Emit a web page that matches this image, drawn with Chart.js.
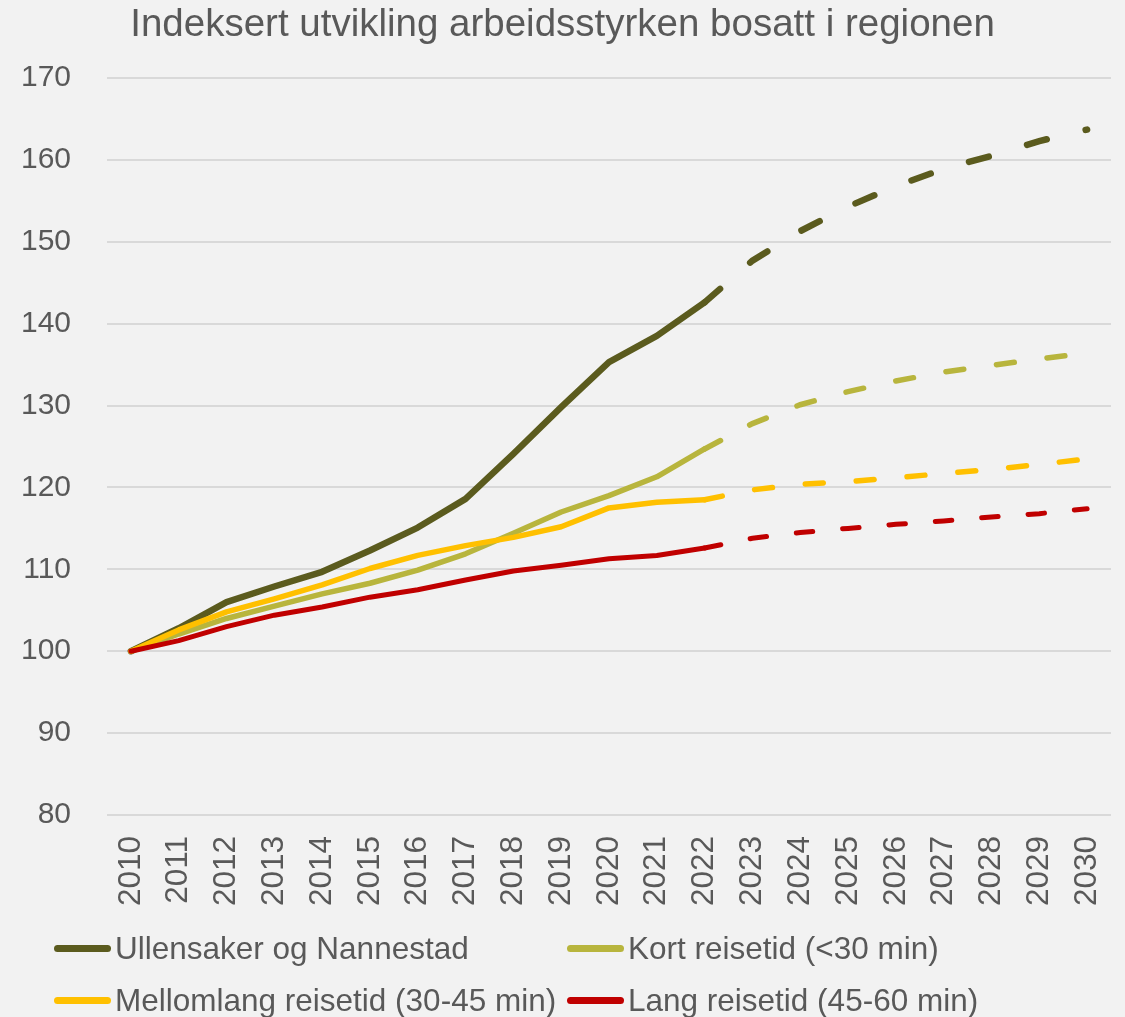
<!DOCTYPE html>
<html>
<head>
<meta charset="utf-8">
<script src="https://cdn.jsdelivr.net/npm/chart.js@4.4.1/dist/chart.umd.min.js"></script>
<style>
  html, body { margin: 0; padding: 0; background: #f2f2f2; }
  #wrap { position: relative; width: 1125px; height: 1017px; }
  .leg-item { position: absolute; display: flex; align-items: center; height: 40px;
    font-family: 'Liberation Sans', Arial, sans-serif; font-size: 31.5px; color: #595959; white-space: nowrap; }
  .leg-line { width: 57px; height: 7px; border-radius: 4px; margin-right: 4px; }
</style>
</head>
<body>
<div id="wrap">
  <canvas id="chart"></canvas>
  <div id="legend"></div>
</div>
<script>
const years = ['2010','2011','2012','2013','2014','2015','2016','2017','2018','2019','2020',
  '2021','2022','2023','2024','2025','2026','2027','2028','2029','2030'];

const seriesNames = [
  'Ullensaker og Nannestad',
  'Kort reisetid (<30 min)',
  'Mellomlang reisetid (30-45 min)',
  'Lang reisetid (45-60 min)'
];
const seriesColors = ['#5b5b1e', '#b8b53d', '#ffc000', '#c00000'];

// Historical 2010-2022
const ullensaker = [100, 102.8, 106.0, 107.9, 109.7, 112.3, 115.1, 118.6, 124.1, 129.8, 135.3, 138.5, 142.6];
const kort       = [100, 102.1, 104.0, 105.5, 107.0, 108.3, 109.9, 111.9, 114.4, 117.0, 119.0, 121.3, 124.7];
const mellom     = [100, 102.6, 104.8, 106.4, 108.1, 110.1, 111.7, 112.9, 113.9, 115.2, 117.5, 118.2, 118.5];
const lang       = [100, 101.3, 103.0, 104.4, 105.4, 106.6, 107.5, 108.7, 109.8, 110.5, 111.3, 111.7, 112.6];

// Projection 2022-2030
const ullensakerProg = [142.6, 147.7, 151.3, 154.3, 156.8, 158.9, 160.5, 162.3, 163.7];
const kortProg       = [124.7, 127.8, 130.1, 131.7, 133.0, 134.1, 134.9, 135.7, 136.4];
const mellomProg     = [118.5, 119.7, 120.4, 120.7, 121.2, 121.7, 122.2, 122.8, 123.5];
const langProg       = [112.6, 113.8, 114.5, 115.0, 115.5, 115.9, 116.4, 116.8, 117.4];

const yTicks = [80, 90, 100, 110, 120, 130, 140, 150, 160, 170];

const history = [ullensaker, kort, mellom, lang];
const projections = [ullensakerProg, kortProg, mellomProg, langProg];
const widths = [6.5, 5.5, 5.5, 5];
const dashes = [[20.5, 40], [18, 33], [18, 33], [16.5, 30]];

const font = "'Liberation Sans', Arial, sans-serif";
const textColor = '#595959';

const datasets = [];
history.forEach((vals, i) => {
  datasets.push({
    label: seriesNames[i],
    data: vals,
    borderColor: seriesColors[i],
    borderWidth: widths[i],
    borderCapStyle: 'round',
    borderJoinStyle: 'round',
    pointRadius: 0,
    tension: 0,
    order: 4 - i
  });
});
projections.forEach((vals, i) => {
  const pad = years.length - vals.length;
  datasets.push({
    label: seriesNames[i] + ' (prognose)',
    data: Array(pad).fill(null).concat(vals),
    borderColor: seriesColors[i],
    borderWidth: widths[i],
    borderDash: dashes[i],
    borderCapStyle: 'round',
    pointRadius: 0,
    tension: 0,
    order: 4 - i
  });
});

new Chart(document.getElementById('chart'), {
  type: 'line',
  data: { labels: years, datasets: datasets },
  options: {
    responsive: true,
    maintainAspectRatio: false,
    animation: false,
    layout: { padding: { left: 0, right: 0, top: 0, bottom: 102 } },
    plugins: {
      legend: { display: false },
      tooltip: { enabled: false },
      title: {
        display: true,
        text: 'Indeksert utvikling arbeidsstyrken bosatt i regionen',
        color: textColor,
        font: { family: font, size: 38.5, weight: 'normal', lineHeight: 1.2 },
        padding: { top: 2, bottom: 29.8 }
      }
    },
    scales: {
      x: {
        offset: true,
        grid: { display: false, drawTicks: false },
        border: { display: false },
        ticks: {
          color: textColor,
          font: { family: font, size: 31.5 },
          autoSkip: false,
          minRotation: 90,
          maxRotation: 90,
          padding: 21
        },
        // keep 14px free on the right so the title stays centred on the page
        afterFit: s => { s.height = 100; s.paddingLeft = 0; s.paddingRight = 14; }
      },
      y: {
        min: 80,
        max: 170,
        afterBuildTicks: s => { s.ticks = yTicks.map(v => ({ value: v })); },
        grid: { color: '#d9d9d9', lineWidth: 2, drawTicks: false },
        border: { display: false },
        ticks: {
          color: textColor,
          font: { family: font, size: 30 },
          padding: 36
        },
        afterFit: s => { s.width = 107; }
      }
    }
  }
});

// Legend, laid out in two columns like the original
const legend = document.getElementById('legend');
const legPos = [[54, 928], [567, 928], [54, 980], [567, 980]];
seriesNames.forEach((name, i) => {
  const item = document.createElement('div');
  item.className = 'leg-item';
  item.style.left = legPos[i][0] + 'px';
  item.style.top = legPos[i][1] + 'px';
  const line = document.createElement('span');
  line.className = 'leg-line';
  line.style.background = seriesColors[i];
  const label = document.createElement('span');
  label.textContent = name;
  item.appendChild(line);
  item.appendChild(label);
  legend.appendChild(item);
});
</script>
</body>
</html>
